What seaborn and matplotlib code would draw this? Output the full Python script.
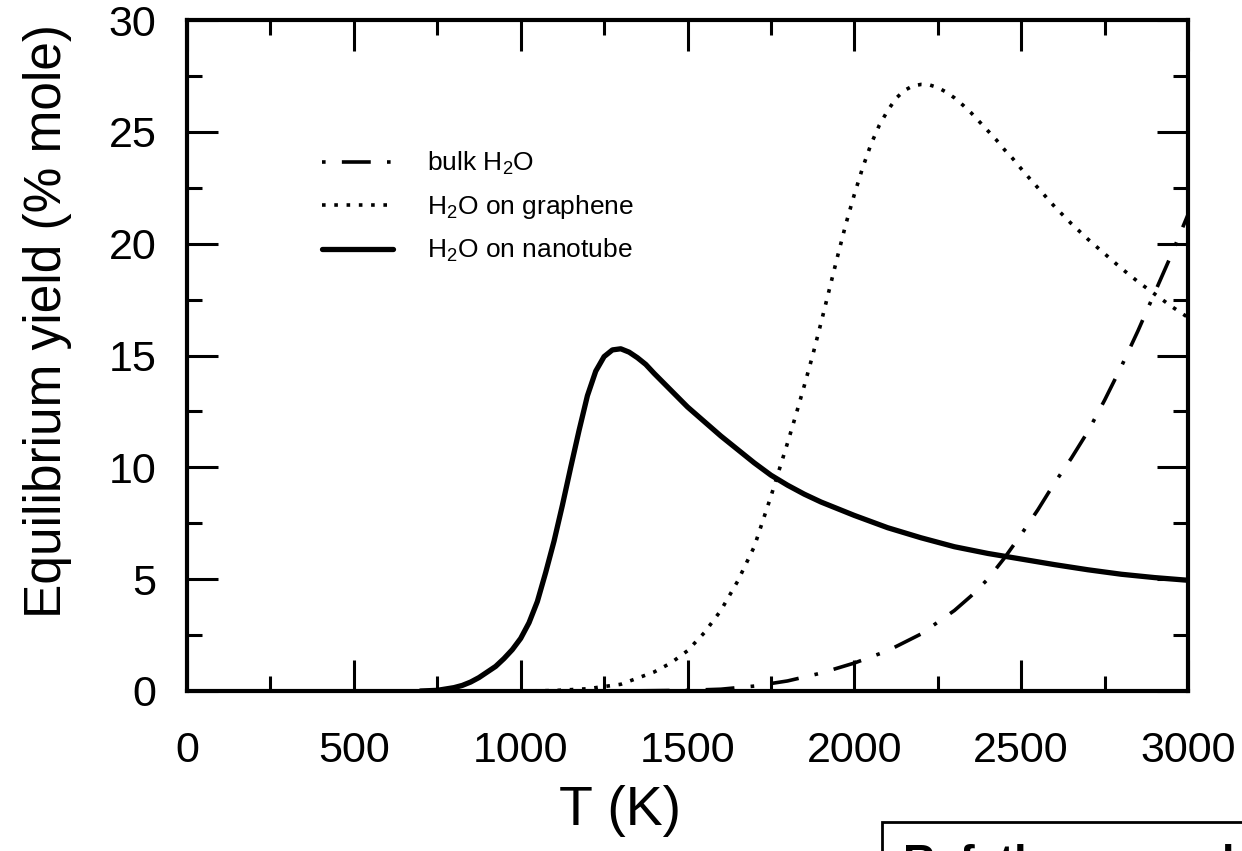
import numpy as np
import pandas as pd
import seaborn as sns
import matplotlib
matplotlib.use("Agg")
import matplotlib.pyplot as plt
from matplotlib.patches import Rectangle
from matplotlib.ticker import MultipleLocator

# ---- data ----
nano_T = [700, 750, 800, 825, 850, 875, 900, 925, 950, 975, 1000, 1025, 1050, 1075, 1100,
          1125, 1150, 1175, 1200, 1225, 1250, 1275, 1300, 1325, 1350, 1375, 1400, 1450,
          1500, 1550, 1600, 1650, 1700, 1750, 1800, 1850, 1900, 1950, 2000, 2100, 2200,
          2300, 2400, 2500, 2600, 2700, 2800, 2900, 3000]
nano_Y = [0.0, 0.03, 0.15, 0.25, 0.4, 0.6, 0.85, 1.1, 1.45, 1.85, 2.35, 3.05, 4.0, 5.3, 6.7,
          8.3, 10.0, 11.65, 13.2, 14.3, 14.95, 15.25, 15.3, 15.15, 14.9, 14.6, 14.2, 13.45,
          12.7, 12.05, 11.4, 10.8, 10.2, 9.65, 9.2, 8.8, 8.45, 8.15, 7.85, 7.3, 6.85,
          6.45, 6.15, 5.9, 5.65, 5.42, 5.22, 5.07, 4.95]

graph_T = [1000, 1100, 1200, 1300, 1400, 1450, 1500, 1550, 1600, 1650, 1700, 1750, 1800,
           1825, 1850, 1875, 1900, 1925, 1950, 1975, 2000, 2025, 2050, 2075, 2100, 2125,
           2150, 2175, 2200, 2225, 2250, 2275, 2300, 2325, 2350, 2375, 2400, 2425, 2450,
           2475, 2500, 2525, 2550, 2575, 2600, 2650, 2700, 2750, 2800, 2850, 2900, 2950, 3000]
graph_Y = [0.0, 0.02, 0.1, 0.3, 0.85, 1.25, 1.8, 2.6, 3.6, 4.9, 6.45, 8.7, 11.1,
           12.35, 13.65, 15.0, 16.45, 17.95, 19.45, 20.9, 22.2, 23.4, 24.45, 25.3, 25.95, 26.5,
           26.85, 27.05, 27.12, 27.1, 26.98, 26.78, 26.52, 26.2, 25.85, 25.45, 25.05, 24.65, 24.2,
           23.8, 23.35, 22.92, 22.5, 22.08, 21.66, 20.9, 20.2, 19.55, 18.9, 18.3, 17.75, 17.2, 16.7]

bulk_T = [1300, 1500, 1600, 1700, 1800, 1900, 2000, 2100, 2200, 2300, 2350, 2400, 2450,
          2500, 2550, 2600, 2650, 2700, 2750, 2800, 2850, 2900, 2950, 3000]
bulk_Y = [0.0, 0.03, 0.08, 0.22, 0.45, 0.8, 1.25, 1.8, 2.55, 3.6, 4.25, 5.0, 5.95,
          7.0, 8.1, 9.3, 10.4, 11.6, 13.0, 14.5, 16.1, 17.8, 19.5, 21.3]

labels = [r"bulk H$_\mathregular{2}$O",
          r"H$_\mathregular{2}$O on graphene",
          r"H$_\mathregular{2}$O on nanotube"]
x_ticks = [0, 500, 1000, 1500, 2000, 2500, 3000]
y_ticks = [0, 5, 10, 15, 20, 25, 30]
x_label = "T (K)"
y_label = "Equilibrium yield (% mole)"
box_text = "Ref. the manual"

# ---- style ----
sns.set_theme(style="white")
plt.rcParams['font.family'] = ['Liberation Sans', 'DejaVu Sans']
plt.rcParams['mathtext.fontset'] = 'custom'
plt.rcParams['mathtext.rm'] = 'Liberation Sans'
plt.rcParams['mathtext.it'] = 'Liberation Sans:italic'
plt.rcParams['mathtext.bf'] = 'Liberation Sans:bold'
plt.rcParams['text.color'] = 'black'
plt.rcParams['axes.labelcolor'] = 'black'
plt.rcParams['xtick.color'] = 'black'
plt.rcParams['ytick.color'] = 'black'

fig = plt.figure(figsize=(12.42, 8.51), dpi=100)
L, R, T, B = 187, 1188, 20, 691
W, H = 1242, 851
ax = fig.add_axes([L / W, 1 - B / H, (R - L) / W, (B - T) / H])

df_bulk = pd.DataFrame({"T": bulk_T, "Y": bulk_Y})
df_graph = pd.DataFrame({"T": graph_T, "Y": graph_Y})
df_nano = pd.DataFrame({"T": nano_T, "Y": nano_Y})

sns.lineplot(data=df_bulk, x="T", y="Y", ax=ax, color="black", lw=2.6,
             linestyle=(0, (1, 4.5, 8, 4.5)), label=labels[0], estimator=None, sort=False)
sns.lineplot(data=df_graph, x="T", y="Y", ax=ax, color="black", lw=2.6,
             linestyle=(0, (1, 2.4)), label=labels[1], estimator=None, sort=False)
sns.lineplot(data=df_nano, x="T", y="Y", ax=ax, color="black", lw=3.8,
             linestyle="-", label=labels[2], estimator=None, sort=False,
             solid_joinstyle="round", solid_capstyle="round")

ax.set_xlim(0, 3000)
ax.set_ylim(0, 30)
ax.set_xticks(x_ticks)
ax.set_yticks(y_ticks)
ax.xaxis.set_minor_locator(MultipleLocator(250))
ax.yaxis.set_minor_locator(MultipleLocator(2.5))
ax.tick_params(which="both", direction="in", top=True, right=True, bottom=True, left=True,
               color="black", width=2.2)
ax.tick_params(which="major", length=22)
ax.tick_params(which="minor", length=11)
ax.tick_params(axis="x", which="major", labelsize=31, pad=29)
ax.tick_params(axis="y", which="major", labelsize=31, pad=22)
for sp in ax.spines.values():
    sp.set_color("black")
    sp.set_linewidth(3.0)
ax.grid(False)

ax.set_xlabel(x_label, fontsize=40)
ax.set_ylabel(y_label, fontsize=37)
ax.xaxis.set_label_coords((620 - L) / (R - L), -0.14)
ax.yaxis.set_label_coords((72 - L) / (R - L), (B - 321) / (B - T))

leg = ax.legend(loc="upper left", bbox_to_anchor=((322 - L) / (R - L), (B - 150) / (B - T)),
                frameon=False, fontsize=19, handlelength=2.7, handletextpad=1.27,
                labelspacing=0.6, borderpad=0, borderaxespad=0)

# bottom-right boxed caption (cropped by figure edge)
fig.patches.append(Rectangle((882 / W, -0.1), 0.5, (0.1 + 1 - 822 / H),
                             transform=fig.transFigure, fill=False,
                             edgecolor="black", lw=2.0, clip_on=False))
fig.text(903 / W, 1 - 876 / H, box_text, fontsize=32, fontweight="bold",
         ha="left", va="baseline", color="black")

fig.savefig("out.png", dpi=100, facecolor="white")
